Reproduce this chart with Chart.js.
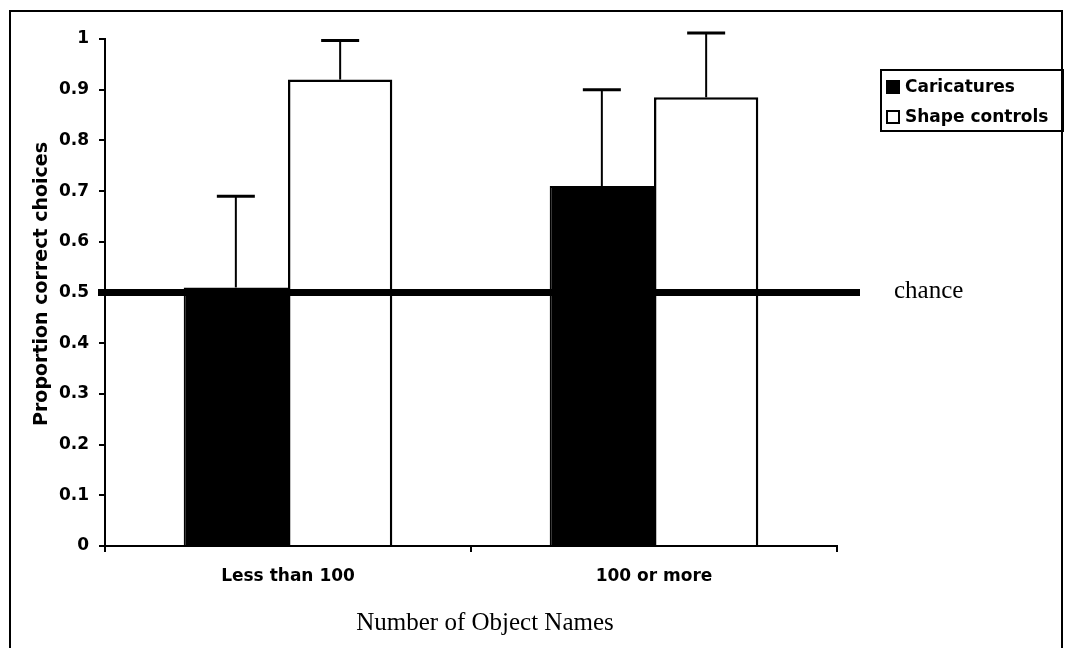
<!DOCTYPE html>
<html>
<head>
<meta charset="utf-8">
<script src="https://cdn.jsdelivr.net/npm/chart.js@4/dist/chart.umd.min.js"></script>
<style>
  html, body { margin: 0; padding: 0; background: #fff; }
  #wrap { position: relative; width: 1066px; height: 648px; }
</style>
</head>
<body>
<div id="wrap"><canvas id="c" width="1066" height="648"></canvas></div>
<script>
// ---- data ----
const categories = ["Less than 100", "100 or more"];
const seriesNames = ["Caricatures", "Shape controls"];
const caricatures = [0.51, 0.71];
const caricaturesErr = [0.18, 0.19];
const shapeControls = [0.92, 0.885];
const shapeControlsErr = [0.077, 0.127];
const chanceLevel = 0.5;
const yTicks = [0, 0.1, 0.2, 0.3, 0.4, 0.5, 0.6, 0.7, 0.8, 0.9, 1];
const xTitle = "Number of Object Names";
const yTitle = "Proportion correct choices";
const chanceLabel = "chance";

const errors = [caricaturesErr, shapeControlsErr];

const sansBold = '"DejaVu Sans", Verdana, sans-serif';
const serif = '"Liberation Serif", "Times New Roman", serif';

const decor = {
  id: 'decor',
  afterDatasetsDraw(chart) {
    const ctx = chart.ctx;
    const y = chart.scales.y;
    ctx.save();
    // chance line
    const cy = y.getPixelForValue(chanceLevel);
    ctx.strokeStyle = '#000';
    ctx.lineWidth = 7;
    ctx.lineCap = 'butt';
    ctx.beginPath();
    ctx.moveTo(98, cy);
    ctx.lineTo(860, cy);
    ctx.stroke();
    // error bars
    chart.data.datasets.forEach((ds, di) => {
      const meta = chart.getDatasetMeta(di);
      meta.data.forEach((bar, i) => {
        const v = ds.data[i];
        const e = errors[di][i];
        const top = y.getPixelForValue(v);
        const tip = y.getPixelForValue(v + e);
        ctx.lineWidth = 2;
        ctx.beginPath();
        ctx.moveTo(bar.x, top);
        ctx.lineTo(bar.x, tip);
        ctx.stroke();
        ctx.lineWidth = 3;
        ctx.beginPath();
        ctx.moveTo(bar.x - 19, tip);
        ctx.lineTo(bar.x + 19, tip);
        ctx.stroke();
      });
    });
    // chance label
    ctx.fillStyle = '#000';
    ctx.font = '25px ' + serif;
    ctx.textAlign = 'left';
    ctx.textBaseline = 'alphabetic';
    ctx.fillText(chanceLabel, 894, cy + 5);
    // x title
    ctx.font = '25px ' + serif;
    ctx.textAlign = 'center';
    ctx.fillText(xTitle, 485, 630);
    // y title
    ctx.save();
    ctx.translate(42, 284);
    ctx.rotate(-Math.PI / 2);
    ctx.font = 'bold 19px ' + sansBold;
    ctx.textAlign = 'center';
    ctx.textBaseline = 'middle';
    ctx.fillText(yTitle, 0, 0);
    ctx.restore();
    // legend
    ctx.lineWidth = 2;
    ctx.strokeRect(881, 70, 182, 61);
    const rows = [87, 117];
    ctx.font = 'bold 17px ' + sansBold;
    ctx.textAlign = 'left';
    ctx.textBaseline = 'middle';
    seriesNames.forEach((n, i) => {
      const ry = rows[i];
      if (i === 0) {
        ctx.fillStyle = '#000';
        ctx.fillRect(886, ry - 7, 14, 14);
      } else {
        ctx.fillStyle = '#fff';
        ctx.fillRect(887, ry - 6, 12, 12);
        ctx.lineWidth = 2;
        ctx.strokeRect(887, ry - 6, 12, 12);
      }
      ctx.fillStyle = '#000';
      ctx.fillText(n, 905, ry + 1);
    });
    // outer frame
    ctx.lineWidth = 2;
    ctx.strokeRect(10, 11, 1052, 660);
    ctx.restore();
  }
};

new Chart(document.getElementById('c'), {
  type: 'bar',
  data: {
    labels: categories,
    datasets: [
      { label: seriesNames[0], data: caricatures, backgroundColor: '#000', borderColor: '#000', borderWidth: 2 },
      { label: seriesNames[1], data: shapeControls, backgroundColor: '#fff', borderColor: '#000', borderWidth: 2.5 }
    ]
  },
  options: {
    responsive: false,
    animation: false,
    devicePixelRatio: 1,
    layout: { padding: { left: 0, top: 39, right: 1066 - 837, bottom: 0 } },
    plugins: { legend: { display: false }, tooltip: { enabled: false } },
    datasets: { bar: { categoryPercentage: 0.57, barPercentage: 1.0 } },
    scales: {
      x: {
        grid: { drawOnChartArea: false, color: '#000', tickLength: 6, lineWidth: 2, offset: true },
        border: { display: true, color: '#000', width: 2 },
        ticks: { color: '#000', font: { family: sansBold, size: 17, weight: 'bold' }, padding: 14, maxRotation: 0 },
        afterFit(s) { s.height = 648 - 546; }
      },
      y: {
        min: 0, max: 1,
        afterBuildTicks(s) { s.ticks = yTicks.map(v => ({ value: v })); },
        grid: { drawOnChartArea: false, color: '#000', tickLength: 6, lineWidth: 2 },
        border: { display: true, color: '#000', width: 2 },
        ticks: {
          color: '#000', padding: 10,
          font: { family: sansBold, size: 17, weight: 'bold' },
          callback: (v) => String(Number(Number(v).toFixed(1)))
        },
        afterFit(s) { s.width = 105; }
      }
    }
  },
  plugins: [decor]
});
</script>
</body>
</html>
